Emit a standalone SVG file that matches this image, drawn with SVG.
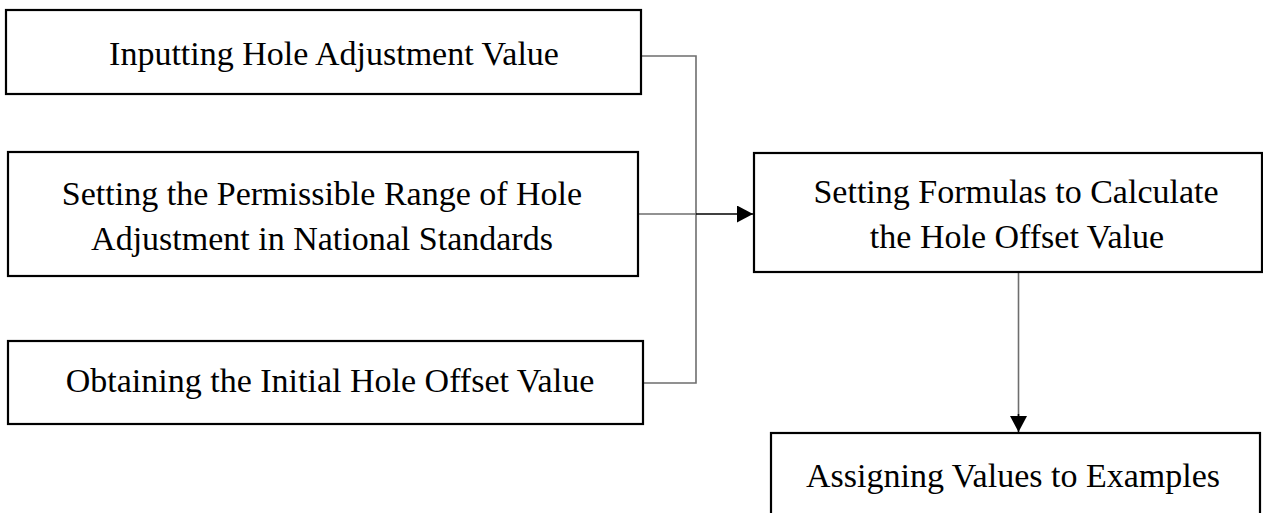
<svg xmlns="http://www.w3.org/2000/svg" width="1263" height="513" viewBox="0 0 1263 513">
  <style>
    .box { fill: #ffffff; stroke: #000000; stroke-width: 2.2; }
    .label { font-family: "Liberation Serif", "Times New Roman", serif; font-size: 34px; fill: #000000; text-anchor: middle; }
    .wire { fill: none; stroke: #6e6e6e; stroke-width: 1.6; }
    .flow { fill: none; stroke: #000000; stroke-width: 1.6; }
  </style>
  <defs>
    <marker id="arrow" markerWidth="16" markerHeight="17" refX="16" refY="8.5" orient="auto" markerUnits="userSpaceOnUse">
      <path d="M0,0 L16,8.5 L0,17 Z" fill="#000000"/>
    </marker>
  </defs>
  <rect width="1263" height="513" fill="#ffffff"/>

  <g id="connectors">
    <!-- inputs gathered on a shared trunk -->
    <polyline class="wire" points="641,56 696,56 696,383 643,383"/>
    <line class="wire" x1="638" y1="214" x2="696" y2="214"/>
    <line class="flow" x1="696" y1="214" x2="753" y2="214" marker-end="url(#arrow)"/>
    <!-- formulas to examples -->
    <line class="wire" x1="1018.5" y1="272" x2="1018.5" y2="420"/>
    <line class="flow" x1="1018.5" y1="414" x2="1018.5" y2="432" marker-end="url(#arrow)"/>
  </g>

  <g id="node-input">
    <rect class="box" x="6" y="10" width="635" height="84"/>
    <text class="label" x="334" y="65">Inputting Hole Adjustment Value</text>
  </g>

  <g id="node-range">
    <rect class="box" x="8" y="152" width="630" height="124"/>
    <text class="label" x="322" y="205">Setting the Permissible Range of Hole</text>
    <text class="label" x="322" y="250">Adjustment in National Standards</text>
  </g>

  <g id="node-initial">
    <rect class="box" x="8" y="341" width="635" height="83"/>
    <text class="label" x="330" y="392">Obtaining the Initial Hole Offset Value</text>
  </g>

  <g id="node-formulas">
    <rect class="box" x="754" y="153" width="508" height="119"/>
    <text class="label" x="1016" y="203">Setting Formulas to Calculate</text>
    <text class="label" x="1017" y="248">the Hole Offset Value</text>
  </g>

  <g id="node-examples">
    <rect class="box" x="771" y="433" width="489" height="100"/>
    <text class="label" x="1013" y="487">Assigning Values to Examples</text>
  </g>
</svg>
